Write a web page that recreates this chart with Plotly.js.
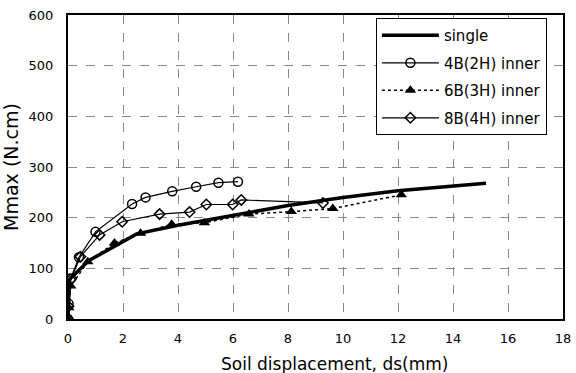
<!DOCTYPE html>
<html>
<head>
<meta charset="utf-8">
<script src="https://cdn.plot.ly/plotly-3.0.1.min.js"></script>
<style>html,body{margin:0;padding:0;background:#fff;}#chart{width:576px;height:373px;}</style>
</head>
<body>
<div id="chart"></div>
<script>
const singleX = [0, 0.05, 0.75, 2.5, 4, 6, 8, 10, 12, 15.2];
const singleY = [0, 78, 115, 168, 185, 205, 224, 240, 253, 268];

const b4X = [0, 0.02, 0.1, 0.4, 1.0, 2.33, 2.82, 3.79, 4.66, 5.47, 6.18];
const b4Y = [0, 30, 80, 122, 172, 227, 240, 252, 261, 269, 271];

const b6X = [0, 0.03, 0.1, 0.72, 1.69, 2.64, 3.77, 4.96, 6.58, 8.12, 9.63, 12.12];
const b6Y = [0, 22, 65, 113, 150, 169, 187, 190, 207, 212, 218, 245];

const b8X = [0, 0.02, 0.1, 0.45, 1.15, 1.97, 3.33, 4.42, 5.03, 5.99, 6.3, 9.27];
const b8Y = [0, 25, 78, 123, 166, 192, 207, 211, 226, 226, 235, 229];

const names = ['single', '4B(2H) inner', '6B(3H) inner', '8B(4H) inner'];
const xTicks = [0, 2, 4, 6, 8, 10, 12, 14, 16, 18];
const yTicks = [0, 100, 200, 300, 400, 500, 600];
const xTitle = 'Soil displacement, ds(mm)';
const yTitle = 'Mmax (N.cm)';

const traces = [
  {x: singleX, y: singleY, name: names[0], legendgroup: 'a', mode: 'lines',
   line: {color: '#000', width: 3.5}},
  {x: b4X, y: b4Y, name: names[1], legendgroup: 'b', mode: 'lines+markers',
   line: {color: '#000', width: 1.2},
   marker: {symbol: 'circle-open', size: 9, color: '#000', line: {width: 1.5}}},
  {x: b6X, y: b6Y, name: names[2], legendgroup: 'c', mode: 'lines+markers',
   line: {color: '#000', width: 1.5, dash: 'dot'},
   marker: {symbol: 'triangle-up', size: 10, color: '#000'}},
  {x: b8X, y: b8Y, name: names[3], legendgroup: 'd', mode: 'lines+markers',
   line: {color: '#000', width: 1.2},
   marker: {symbol: 'diamond-open', size: 8, color: '#000', line: {width: 1.5}}}
];

const layout = {
  width: 576, height: 373,
  margin: {l: 68, r: 13, t: 15, b: 54},
  paper_bgcolor: '#fff', plot_bgcolor: '#fff',
  font: {family: 'DejaVu Sans, Arial, sans-serif', color: '#000', size: 13},
  showlegend: true,
  legend: {
    x: 0.622, y: 0.99, xanchor: 'left', yanchor: 'top',
    bordercolor: '#000', borderwidth: 1, bgcolor: '#fff',
    font: {size: 15}, tracegroupgap: 5, itemwidth: 57
  },
  xaxis: {
    range: [0, 18], tickvals: xTicks, ticktext: xTicks.map(String),
    showline: true, linecolor: '#000', linewidth: 2, mirror: true,
    showgrid: true, gridcolor: '#888', griddash: 'dash', gridwidth: 1,
    zeroline: false, ticks: '', ticklabelstandoff: 6,
    tickfont: {size: 13}
  },
  yaxis: {
    range: [0, 600], tickvals: yTicks, ticktext: yTicks.map(String),
    showline: true, linecolor: '#000', linewidth: 2, mirror: true,
    showgrid: true, gridcolor: '#888', griddash: 'dash', gridwidth: 1,
    zeroline: false, ticks: '', ticklabelstandoff: 10,
    tickfont: {size: 13},
    title: {text: yTitle, font: {size: 19}, standoff: 10}
  },
  annotations: [{
    text: xTitle, xref: 'paper', yref: 'paper', x: 0.539, y: -0.188,
    xanchor: 'center', yanchor: 'bottom', showarrow: false, font: {size: 17}
  }]
};

Plotly.newPlot('chart', traces, layout, {displayModeBar: false, staticPlot: true});
</script>
</body>
</html>
